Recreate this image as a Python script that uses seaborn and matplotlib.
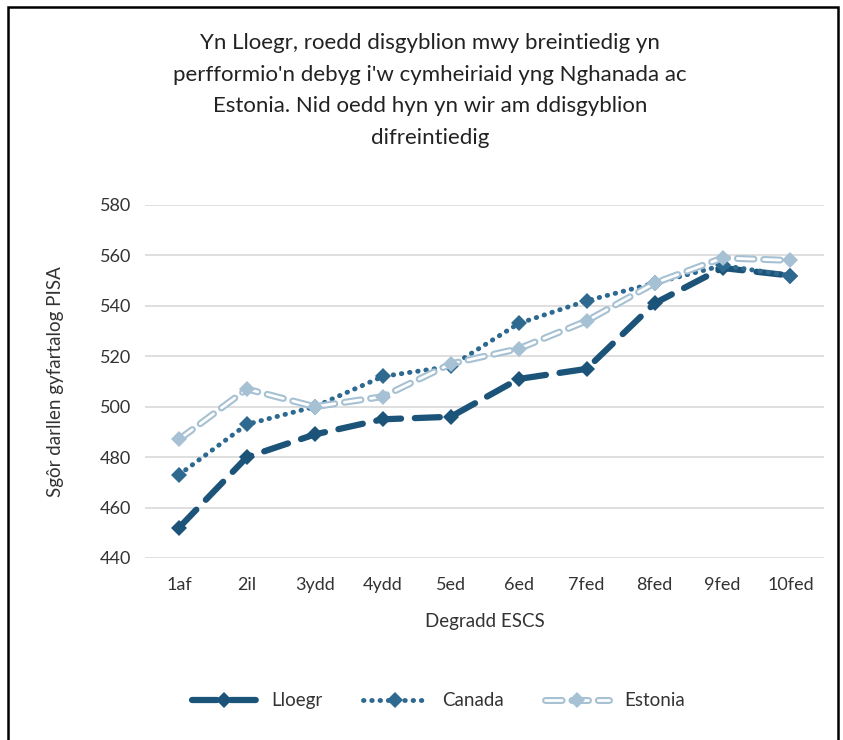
import matplotlib

matplotlib.use("Agg")
import matplotlib.patheffects as pe
import matplotlib.pyplot as plt
import numpy as np
import pandas as pd
import seaborn as sns
from matplotlib.legend_handler import HandlerTuple
from matplotlib.patches import Rectangle

# ESCS deciles (Welsh ordinal labels)
deciles = ["1af", "2il", "3ydd", "4ydd", "5ed", "6ed", "7fed", "8fed", "9fed", "10fed"]
lloegr = [452, 480, 489, 495, 496, 511, 515, 541, 555, 552]
canada = [473, 493, 500, 512, 516, 533, 542, 549, 556, 552]
estonia = [487, 507, 500, 504, 517, 523, 534, 549, 559, 558]

title = (
    "Yn Lloegr, roedd disgyblion mwy breintiedig yn\n"
    "perfformio'n debyg i'w cymheiriaid yng Nghanada ac\n"
    "Estonia. Nid oedd hyn yn wir am ddisgyblion\n"
    "difreintiedig"
)

sns.set_theme(style="white")
plt.rcParams["font.family"] = ["Lato", "DejaVu Sans"]
text_col = "#333333"
est_col = "#A6C1D3"

df = pd.DataFrame(
    {"pos": np.arange(len(deciles)), "Lloegr": lloegr, "Canada": canada, "Estonia": estonia}
)

fig = plt.figure(figsize=(8.43, 7.4), dpi=100)
ax = fig.add_axes([0.172, 0.246, 0.806, 0.477])

# outer chart frame
fig.patches.append(
    Rectangle((0.010, -0.05), 0.984, 1.04, transform=fig.transFigure,
              fill=False, edgecolor="black", linewidth=1.8, zorder=10)
)

sns.lineplot(data=df, x="pos", y="Lloegr", ax=ax, color="#1C5479", linewidth=4.5,
             marker="D", markersize=8, markeredgewidth=0, label="Lloegr",
             linestyle=(0, (4, 2.2)))
sns.lineplot(data=df, x="pos", y="Canada", ax=ax, color="#2E6990", linewidth=3.5,
             marker="D", markersize=8, markeredgewidth=0, label="Canada",
             linestyle=(0, (0.1, 1.6)))

# Estonia: hollow (outlined) dashed line, then markers on top
sns.lineplot(data=df, x="pos", y="Estonia", ax=ax, color="white", linewidth=2.0,
             label="_est_line", linestyle=(0, (6, 3.5)))
est_line = ax.lines[-1]
est_line.set_path_effects([pe.Stroke(linewidth=5.0, foreground=est_col), pe.Normal()])
sns.lineplot(data=df, x="pos", y="Estonia", ax=ax, color=est_col, linewidth=0,
             marker="D", markersize=8, markeredgewidth=0, label="_est_marks")
est_marks = ax.lines[-1]
for ln in ax.lines:
    ln.set_dash_capstyle("round")

ax.set_xlim(-0.5, len(deciles) - 0.5)
ax.set_ylim(440, 580)
ax.set_yticks(range(440, 581, 20))
ax.set_xticks(range(len(deciles)))
ax.set_xticklabels(deciles)
ax.yaxis.grid(True, color="#D9D9D9", linewidth=1.2)
ax.set_axisbelow(True)
for s in ax.spines.values():
    s.set_visible(False)
ax.tick_params(axis="both", length=0, labelsize=13, labelcolor=text_col, pad=10)
ax.tick_params(axis="x", pad=14)

ax.set_xlabel("Degradd ESCS", fontsize=13.5, color=text_col, labelpad=14)
ax.set_ylabel("Sgôr darllen gyfartalog PISA", fontsize=13.5, color=text_col, labelpad=26)

fig.text(0.51, 0.955, title, ha="center", va="top", fontsize=16, color="#222222",
         linespacing=1.72)

handles, labels = ax.get_legend_handles_labels()
handles = handles[:2] + [(est_line, est_marks)]
labels = labels[:2] + ["Estonia"]
ax.legend_.remove()
fig.legend(handles, labels, loc="center", bbox_to_anchor=(0.52, 0.053), ncol=3,
           frameon=False, fontsize=13.5, handlelength=3.4, columnspacing=2.2,
           labelcolor=text_col, handler_map={tuple: HandlerTuple(ndivide=1)})

fig.savefig("out.png", dpi=100, facecolor="white")
